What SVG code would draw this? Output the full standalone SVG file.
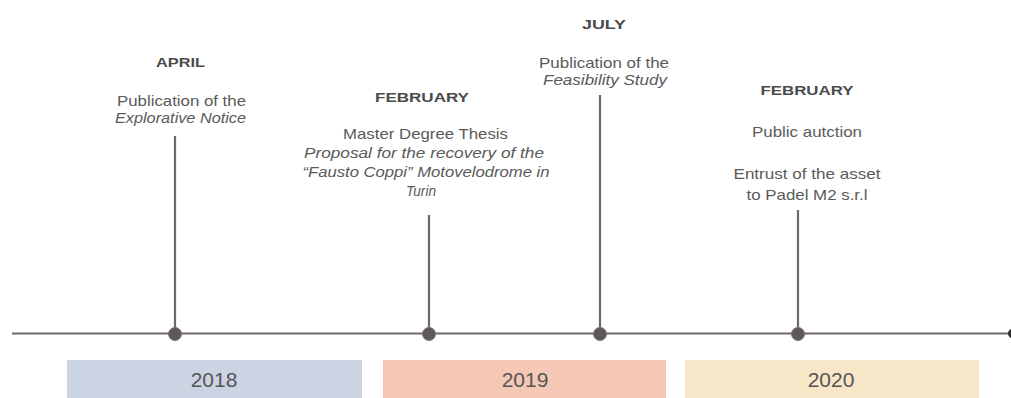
<svg xmlns="http://www.w3.org/2000/svg" width="1011" height="398" viewBox="0 0 1011 398">
<style>
.mon{font-family:"Liberation Sans",Arial,sans-serif;font-size:13.5px;font-weight:bold;fill:#4a4a4a;text-anchor:middle}
.txt{font-family:"Liberation Sans",Arial,sans-serif;font-size:14.5px;fill:#5a5a5a;text-anchor:middle}
.it{font-style:italic}
.yr{font-family:"Liberation Sans",Arial,sans-serif;font-size:21px;fill:#555;text-anchor:middle}
.stem{stroke:#706868;stroke-width:2.2}
.dot{fill:#5e5858;stroke:#7a7474;stroke-width:1}
</style>
<rect width="1011" height="398" fill="#fff"/>
<g id="connectors">
<line x1="12" y1="333.5" x2="1010" y2="333.5" stroke="#6e6767" stroke-width="2"/>
<circle cx="1013" cy="333.5" r="5" fill="#333"/>
<line class="stem" x1="175" y1="136" x2="175" y2="334"/>
<line class="stem" x1="429" y1="215" x2="429" y2="334"/>
<line class="stem" x1="600" y1="95" x2="600" y2="334"/>
<line class="stem" x1="798" y1="210" x2="798" y2="334"/>
</g>
<g id="year-2018">
<rect x="67" y="360" width="295" height="40" fill="#ccd4e4"/>
<text class="yr" x="214" y="387">2018</text>
</g>
<g id="year-2019">
<rect x="383" y="360" width="283" height="40" fill="#f5c7b5"/>
<text class="yr" x="525" y="387">2019</text>
</g>
<g id="year-2020">
<rect x="685" y="360" width="294" height="40" fill="#f7e6c8"/>
<text class="yr" x="831" y="387">2020</text>
</g>
<g id="event-april-2018">
<circle class="dot" cx="175" cy="334" r="6.5"/>
<text class="mon" x="180.5" y="67" textLength="49" lengthAdjust="spacingAndGlyphs">APRIL</text>
<text class="txt" x="181.5" y="106" textLength="129" lengthAdjust="spacingAndGlyphs">Publication of the</text>
<text class="txt it" x="180.5" y="123" textLength="131" lengthAdjust="spacingAndGlyphs">Explorative Notice</text>
</g>
<g id="event-february-2019">
<circle class="dot" cx="429" cy="334" r="6.5"/>
<text class="mon" x="422" y="101.5" textLength="94" lengthAdjust="spacingAndGlyphs">FEBRUARY</text>
<text class="txt" x="425.5" y="139" textLength="165" lengthAdjust="spacingAndGlyphs">Master Degree Thesis</text>
<text class="txt it" x="424" y="158" textLength="240" lengthAdjust="spacingAndGlyphs">Proposal for the recovery of the</text>
<text class="txt it" x="426" y="177" textLength="247" lengthAdjust="spacingAndGlyphs">“Fausto Coppi” Motovelodrome in</text>
<text class="txt it" x="421" y="196" textLength="30" lengthAdjust="spacingAndGlyphs">Turin</text>
</g>
<g id="event-july-2019">
<circle class="dot" cx="600" cy="334" r="6.5"/>
<text class="mon" x="604" y="29" textLength="44" lengthAdjust="spacingAndGlyphs">JULY</text>
<text class="txt" x="604" y="68" textLength="130" lengthAdjust="spacingAndGlyphs">Publication of the</text>
<text class="txt it" x="605" y="85" textLength="124" lengthAdjust="spacingAndGlyphs">Feasibility Study</text>
</g>
<g id="event-february-2020">
<circle class="dot" cx="798" cy="334" r="6.5"/>
<text class="mon" x="807" y="95" textLength="93" lengthAdjust="spacingAndGlyphs">FEBRUARY</text>
<text class="txt" x="807" y="137" textLength="110" lengthAdjust="spacingAndGlyphs">Public autction</text>
<text class="txt" x="807" y="179" textLength="147" lengthAdjust="spacingAndGlyphs">Entrust of the asset</text>
<text class="txt" x="807" y="200" textLength="121" lengthAdjust="spacingAndGlyphs">to Padel M2 s.r.l</text>
</g>
</svg>
